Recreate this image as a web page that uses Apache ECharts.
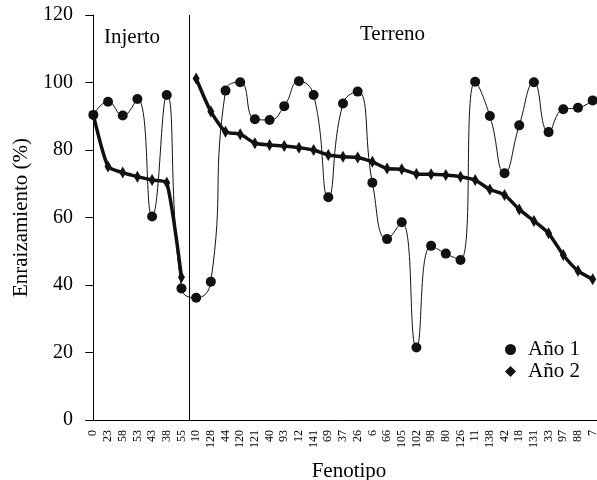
<!DOCTYPE html>
<html>
<head>
<meta charset="utf-8">
<script src="https://cdn.jsdelivr.net/npm/echarts@6/dist/echarts.min.js"></script>
<style>
  html, body { margin: 0; padding: 0; background: #fff; }
  #container { width: 597px; height: 480px; }
</style>
</head>
<body>
<div id="container"></div>
<script type="text/javascript">
var fenotipos = ['0', '23', '58', '53', '43', '38', '55', '10', '128', '44', '120', '121', '40', '93', '12',
    '141', '69', '37', '26', '6', '66', '105', '102', '98', '80', '126', '11', '138', '42', '18', '131',
    '33', '97', '88', '7'];
var anio1 = [90.4, 94.3, 90.2, 95.1, 60.3, 96.3, 39.0, 36.2, 41.0, 97.6, 100.1, 89.1, 88.9, 93.0, 100.4,
    96.3, 66.0, 93.8, 97.3, 70.3, 53.6, 58.6, 21.5, 51.6, 49.3, 47.4, 100.2, 90.1, 73.1, 87.3, 100.1,
    85.3, 92.1, 92.5, 94.7];
var anio2 = [90.4, 75.1, 73.3, 72.1, 71.1, 70.3, 42.3, 101.2, 91.4, 85.4, 84.7, 82.0, 81.5, 81.2, 80.7,
    80.0, 78.5, 78.0, 77.8, 76.5, 74.5, 74.3, 72.9, 72.8, 72.6, 72.1, 71.1, 68.3, 66.7, 62.4, 59.0,
    55.3, 48.9, 44.2, 41.7];
var yTicks = [0, 20, 40, 60, 80, 100, 120];
var nInjerto = 7;     // first 7 fenotipos are "Injerto", the rest "Terreno"
var divisor = 6.55;   // position of the vertical separator

var serif = 'Liberation Serif';
var dom = document.getElementById('container');
var myChart = echarts.init(dom);

// año 2 is drawn as two separate pieces (injerto / terreno)
var anio2Injerto = anio2.map(function (v, i) { return i < nInjerto ? v : null; });
var anio2Terreno = anio2.map(function (v, i) { return i >= nInjerto ? v : null; });

var anio2Style = {
    name: 'Año 2',
    type: 'line',
    smooth: 0.2,
    symbol: 'diamond',
    symbolSize: [7, 12],
    showAllSymbol: true,
    connectNulls: false,
    itemStyle: { color: '#111' },
    lineStyle: { color: '#111', width: 3.5 },
    z: 2
};

var option = {
    backgroundColor: '#fff',
    animation: false,
    grid: { left: 86, top: 15, width: 514, height: 405, outerBoundsMode: 'none', containLabel: false },
    legend: {
        orient: 'vertical',
        left: 500,
        top: 334,
        itemGap: 1,
        itemWidth: 11,
        itemHeight: 11,
        textStyle: { fontFamily: serif, fontSize: 21, color: '#000', padding: [0, 0, 0, 7] },
        data: [{ name: 'Año 1', icon: 'circle' }, { name: 'Año 2', icon: 'diamond' }]
    },
    graphic: [
        { type: 'text', left: 104, top: 27, style: { text: 'Injerto', font: '21px ' + serif, fill: '#000' } },
        { type: 'text', left: 360, top: 24, style: { text: 'Terreno', font: '21px ' + serif, fill: '#000' } }
    ],
    xAxis: [
        {
            type: 'category',
            data: fenotipos,
            name: 'Fenotipo',
            nameLocation: 'middle',
            nameGap: 41,
            nameTextStyle: { fontFamily: serif, fontSize: 21, color: '#000', padding: [0, 0, 0, 12] },
            axisLine: { lineStyle: { color: '#000', width: 1 } },
            axisTick: { length: 7, lineStyle: { color: '#000' } },
            axisLabel: { rotate: 90, interval: 0, margin: 10, fontFamily: serif, fontSize: 12, color: '#000' },
            splitLine: { show: false }
        },
        {
            type: 'value',
            min: -0.5,
            max: fenotipos.length - 0.5,
            show: false
        }
    ],
    yAxis: {
        type: 'value',
        min: yTicks[0],
        max: yTicks[yTicks.length - 1],
        interval: 20,
        name: 'Enraizamiento (%)',
        nameLocation: 'middle',
        nameGap: 52,
        nameTextStyle: { fontFamily: serif, fontSize: 21, color: '#000' },
        axisLine: { show: true, lineStyle: { color: '#000', width: 1 } },
        axisTick: { show: true, length: 8, lineStyle: { color: '#000' } },
        axisLabel: { fontFamily: serif, fontSize: 20, color: '#000', margin: 13 },
        splitLine: { show: false }
    },
    series: [
        {
            name: 'Año 1',
            type: 'line',
            data: anio1,
            smooth: 0.5,
            symbol: 'circle',
            symbolSize: 10,
            showAllSymbol: true,
            itemStyle: { color: '#111' },
            lineStyle: { color: '#111', width: 1 },
            z: 3
        },
        Object.assign({}, anio2Style, { data: anio2Injerto }),
        Object.assign({}, anio2Style, { data: anio2Terreno }),
        {
            type: 'line',
            xAxisIndex: 1,
            data: [],
            silent: true,
            markLine: {
                symbol: 'none',
                silent: true,
                label: { show: false },
                lineStyle: { color: '#000', width: 1, type: 'solid' },
                data: [{ xAxis: divisor }]
            }
        }
    ]
};
myChart.setOption(option);
</script>
</body>
</html>
